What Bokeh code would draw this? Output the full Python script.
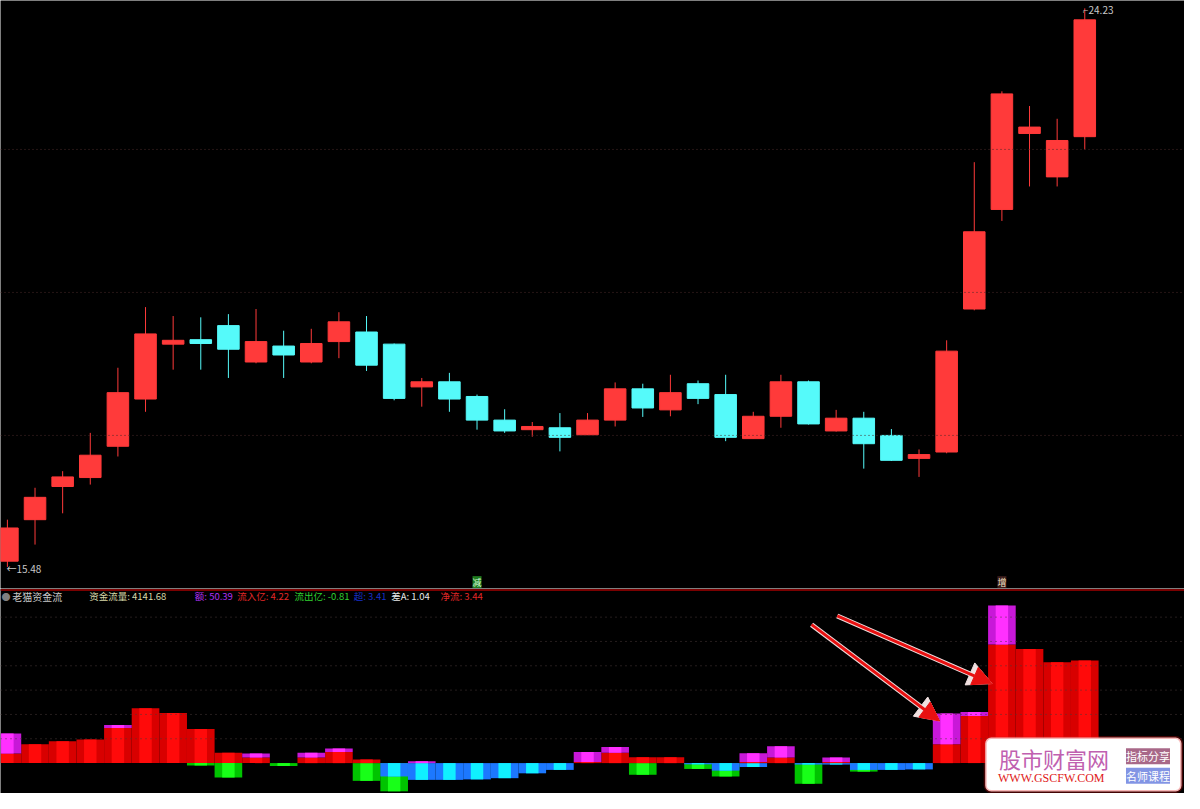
from bokeh.plotting import figure
from bokeh.layouts import column
from bokeh.models import Span, Label, Arrow, NormalHead, BoxAnnotation, Range1d
from bokeh.embed import file_html
from bokeh.resources import INLINE

# ---------------- data ----------------
opens = [15.57, 16.22, 16.74, 16.88, 17.37, 18.11, 18.97, 19.04, 19.26, 18.69,
         18.94, 18.69, 19.01, 19.16, 18.97, 18.30, 18.38, 18.15, 17.78, 17.63,
         17.66, 17.55, 17.78, 18.27, 17.94, 18.35, 18.18, 17.49, 17.84, 18.38,
         17.61, 17.81, 17.54, 17.18, 17.28, 19.52, 21.08, 22.27, 21.59, 22.22]
closes = [16.09, 16.57, 16.89, 17.23, 18.21, 19.13, 19.03, 18.98, 18.89, 19.01,
          18.80, 18.98, 19.32, 18.64, 18.12, 18.38, 18.11, 17.78, 17.61, 17.68,
          17.51, 17.78, 18.27, 17.97, 18.21, 18.12, 17.51, 17.84, 18.38, 17.72,
          17.81, 17.41, 17.15, 17.24, 18.86, 20.73, 22.89, 22.37, 22.16, 24.05]
highs = [16.22, 16.72, 16.98, 17.58, 18.60, 19.55, 19.41, 19.39, 19.44, 19.52,
         19.18, 19.21, 19.47, 19.41, 18.98, 18.44, 18.52, 18.18, 17.95, 17.75,
         17.89, 17.89, 18.37, 18.35, 18.49, 18.40, 18.49, 17.91, 18.49, 18.40,
         17.94, 17.91, 17.64, 17.32, 19.03, 21.82, 22.93, 22.70, 22.50, 24.23]
lows = [15.48, 15.83, 16.32, 16.77, 17.21, 17.91, 18.57, 18.57, 18.44, 18.67,
        18.44, 18.67, 18.75, 18.55, 18.09, 17.99, 17.91, 17.63, 17.58, 17.52,
        17.29, 17.55, 17.68, 17.83, 17.84, 18.03, 17.45, 17.49, 17.66, 17.71,
        17.60, 17.02, 17.14, 16.89, 17.26, 19.50, 20.90, 21.44, 21.44, 22.02]

# fund flow panel (亿)
inflow_red = [0.39, 0.77, 0.90, 0.97, 1.44, 2.25, 2.06, 1.40, 0.43, 0.23,
              0.00, 0.23, 0.46, 0.15, 0.00, 0.00, 0.00, 0.00, 0.00, 0.00,
              0.00, 0.05, 0.42, 0.24, 0.24, 0.00, 0.00, 0.05, 0.23, 0.00,
              0.05, 0.00, 0.00, 0.00, 0.77, 1.94, 4.87, 4.69, 4.15, 4.22]
super_magenta = [0.83, 0.00, 0.00, 0.00, 0.13, 0.00, 0.00, 0.00, 0.00, 0.16,
                 0.00, 0.20, 0.14, 0.00, 0.00, 0.08, 0.00, 0.00, 0.00, 0.00,
                 0.00, 0.41, 0.24, 0.00, 0.00, 0.00, 0.00, 0.35, 0.46, 0.00,
                 0.18, 0.00, 0.00, 0.00, 1.27, 0.16, 1.61, 0.00, 0.00, 0.00]
outflow_blue = [0.00, 0.00, 0.00, 0.00, 0.00, 0.00, 0.00, 0.00, 0.00, 0.00,
                0.00, 0.00, 0.00, 0.00, -0.55, -0.69, -0.69, -0.67, -0.62, -0.42,
                -0.28, 0.00, 0.00, 0.00, 0.00, -0.05, -0.31, -0.16, 0.00, -0.06,
                -0.06, -0.28, -0.28, -0.26, 0.00, 0.00, 0.00, 0.00, 0.00, 0.00]
outflow_green = [0.00, 0.00, 0.00, 0.00, 0.00, 0.00, 0.00, -0.10, -0.59, 0.00,
                 -0.12, 0.00, 0.00, -0.73, -1.16, 0.00, 0.00, 0.00, 0.00, 0.00,
                 0.00, 0.00, 0.00, -0.48, 0.00, -0.24, -0.55, 0.00, 0.00, -0.85,
                 0.00, -0.35, 0.00, 0.00, 0.00, 0.00, 0.00, 0.00, 0.00, 0.00]

price_grid = [17.54, 19.78, 22.02]
flow_grid = [1, 2, 3, 4, 5, 6]

indicator_name = "老猫资金流"
header_texts = ["资金流量: 4141.68", "额: 50.39", "流入亿: 4.22", "流出亿: -0.81",
                "超: 3.41", "差A: 1.04", "净流: 3.44"]
signal_marks = [("减", 17), ("增", 36)]

# ---------------- layout helpers ----------------
W, H_TOP, H_BOT = 1184, 588, 205
FONT = "Noto Sans CJK SC"


def sx(rx):
    return rx * W / 1200.0


def sy_top(ry):
    return (600 - ry) * H_TOP / 600.0


def sy_bot(ry):
    return (809 - ry) * H_BOT / 209.0


n = len(opens)
idx = list(range(n))
xr = Range1d(-0.25, 42.61)

# ---------------- price panel ----------------
top = figure(width=W, height=H_TOP, x_range=xr, y_range=Range1d(15.142, 24.353),
             output_backend="svg", toolbar_location=None,
             x_axis_location=None, y_axis_location=None, min_border=0)
top.background_fill_color = "black"
top.border_fill_color = "black"
top.outline_line_color = None
top.xgrid.visible = False
top.ygrid.visible = False

for g in price_grid:
    top.add_layout(Span(location=g, dimension="width", line_color="#4a2a2a",
                        line_dash="1 3", line_width=1))

UP, DOWN = "#ff3a3a", "#55fafa"
colors = [UP if c >= o else DOWN for o, c in zip(opens, closes)]
top.segment(x0=idx, y0=highs, x1=idx, y1=lows, line_color=colors, line_width=1)
top.vbar(x=idx, width=0.78, top=[max(o, c) for o, c in zip(opens, closes)],
         bottom=[min(o, c) for o, c in zip(opens, closes)],
         fill_color=colors, line_color=colors)

top.add_layout(Label(x=sx(1097), y=sy_top(9), x_units="screen", y_units="screen",
                     text="⌐" + f"{max(highs):.2f}", text_color="#c8c8c8",
                     text_font_size="10px", text_baseline="middle", text_font=FONT))
top.add_layout(Label(x=sx(6), y=sy_top(580), x_units="screen", y_units="screen",
                     text="←" + f"{min(lows):.2f}", text_color="#c8c8c8",
                     text_font_size="10px", text_baseline="middle", text_font=FONT))
mark_styles = {"减": ("#1e7a1e", "#d8ffd8"), "增": ("#3a1c1c", "#f4e4c4")}
for ch, i in signal_marks:
    bg, fg = mark_styles[ch]
    top.add_layout(Label(x=i, y=sy_top(594), y_units="screen", text=ch,
                         text_align="center", text_baseline="middle",
                         text_font_size="9px", text_color=fg, text_font=FONT,
                         background_fill_color=bg))

# ---------------- fund flow panel ----------------
bot = figure(width=W, height=H_BOT, x_range=xr, y_range=Range1d(-1.25, 7.177),
             output_backend="svg", toolbar_location=None,
             x_axis_location=None, y_axis_location=None, min_border=0)
bot.background_fill_color = "black"
bot.border_fill_color = "black"
bot.outline_line_color = None
bot.xgrid.visible = False
bot.ygrid.visible = False

bot.add_layout(Span(location=7.12, dimension="width", line_color="#7a0000", line_width=2))
for g in flow_grid:
    bot.add_layout(Span(location=g, dimension="width", line_color="#4a3a3a",
                        line_dash="1 4", line_width=1))


def bars(vals, base, outer, inner):
    xs = [i for i, v in zip(idx, vals) if v != 0]
    b = [base[i] for i in xs]
    t = [base[i] + vals[i] for i in xs]
    bot.vbar(x=xs, width=1.0, bottom=b, top=t, fill_color=outer, line_color=None)
    bot.vbar(x=xs, width=0.45, bottom=b, top=t, fill_color=inner, line_color=None)


zeros = [0.0] * n
bars(outflow_green, zeros, "#00c400", "#18ff18")
bars(outflow_blue, zeros, "#1c78ff", "#10f0ff")
bars(inflow_red, zeros, "#d80000", "#ff0a0a")
bars(super_magenta, inflow_red, "#c818d8", "#ff30ff")

# header line
hy = sy_bot(608)
HFS = "9.5px"
bot.add_layout(Label(x=sx(1), y=hy, x_units="screen", y_units="screen", text="●",
                     text_color="#808080", text_font_size="9px", text_baseline="middle",
                     text_font=FONT))
bot.add_layout(Label(x=sx(12), y=hy, x_units="screen", y_units="screen", text=indicator_name,
                     text_color="#c8c8c8", text_font_size="10px", text_baseline="middle",
                     text_font=FONT))
header_x = [90, 197, 240, 298, 358, 396, 446]
header_colors = ["#d8d8a8", "#b030f0", "#e02828", "#30d030", "#1830c8", "#e8e8e8", "#e02828"]
for t, x0, c in zip(header_texts, header_x, header_colors):
    bot.add_layout(Label(x=sx(x0), y=hy, x_units="screen", y_units="screen", text=t,
                         text_color=c, text_font_size=HFS, text_baseline="middle",
                         text_font=FONT))

# annotation arrows
for (x0, y0, x1, y1) in [(29.11, 5.69, 33.75, 1.73), (30.04, 6.05, 35.64, 3.27)]:
    bot.add_layout(Arrow(x_start=x0, y_start=y0, x_end=x1, y_end=y1,
                         line_color="#f0e0e0", line_width=5,
                         end=NormalHead(size=24, fill_color="#f0e0e0", line_color="#f0e0e0")))
    bot.add_layout(Arrow(x_start=x0, y_start=y0, x_end=x1, y_end=y1,
                         line_color="#e81010", line_width=3,
                         end=NormalHead(size=19, fill_color="#e81010", line_color="#e81010")))

# watermark box
bot.add_layout(BoxAnnotation(left=sx(998), right=sx(1197), top=sy_bot(752), bottom=sy_bot(807),
                             left_units="screen", right_units="screen",
                             top_units="screen", bottom_units="screen",
                             fill_color="white", fill_alpha=1.0, line_color="#e01010",
                             line_width=3, border_radius=6))
bot.add_layout(Label(x=sx(1012), y=sy_bot(773), x_units="screen", y_units="screen",
                     text="股市财富网", text_color="#c060b0", text_font_size="22px",
                     text_baseline="middle", text_font=FONT))
bot.add_layout(Label(x=sx(1011), y=sy_bot(793), x_units="screen", y_units="screen",
                     text="WWW.GSCFW.COM", text_color="#e01818", text_font_size="12px",
                     text_baseline="middle", text_font="Liberation Serif"))
bot.add_layout(Label(x=sx(1163), y=sy_bot(771), x_units="screen", y_units="screen",
                     text="指标分享", text_color="white", text_font_size="11px",
                     text_align="center", text_baseline="middle", text_font=FONT,
                     background_fill_color="#a86888"))
bot.add_layout(Label(x=sx(1163), y=sy_bot(791), x_units="screen", y_units="screen",
                     text="名师课程", text_color="white", text_font_size="11px",
                     text_align="center", text_baseline="middle", text_font=FONT,
                     background_fill_color="#8294e4"))

layout = column(top, bot, spacing=0)
open("out.html", "w").write(file_html(layout, INLINE))
